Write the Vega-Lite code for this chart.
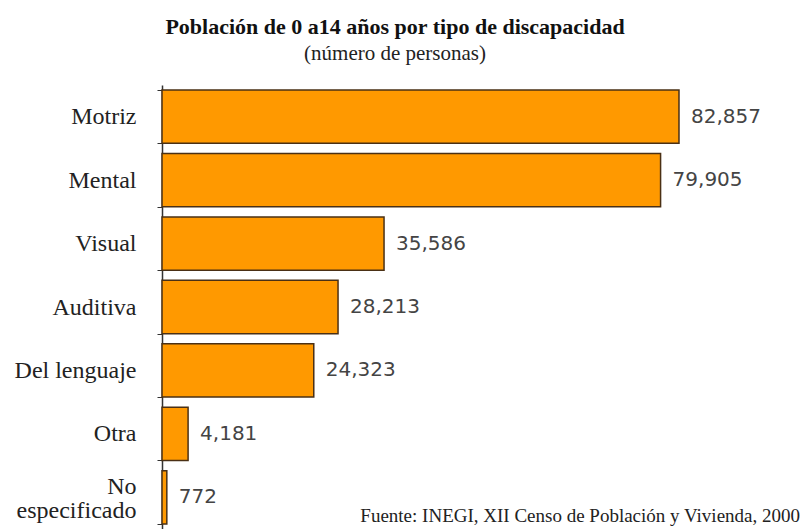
{
  "$schema": "https://vega.github.io/schema/vega-lite/v6.json",
  "width": 638,
  "height": 444,
  "autosize": "none",
  "padding": {"left": 162, "top": 85, "right": 2, "bottom": 0},
  "background": "white",
  "title": {
    "text": "Población de 0 a14 años por tipo de discapacidad",
    "subtitle": "(número de personas)",
    "anchor": "middle",
    "frame": "bounds",
    "dx": -12,
    "font": "Liberation Serif",
    "fontSize": 22,
    "fontWeight": "bold",
    "color": "#111",
    "subtitleFont": "Liberation Serif",
    "subtitleFontSize": 21,
    "subtitleColor": "#222",
    "subtitlePadding": 4,
    "offset": 8
  },
  "data": {
    "values": [
      {"tipo": "Motriz", "personas": 82857},
      {"tipo": "Mental", "personas": 79905},
      {"tipo": "Visual", "personas": 35586},
      {"tipo": "Auditiva", "personas": 28213},
      {"tipo": "Del lenguaje", "personas": 24323},
      {"tipo": "Otra", "personas": 4181},
      {"tipo": "No especificado", "personas": 772}
    ]
  },
  "encoding": {
    "y": {
      "field": "tipo",
      "type": "nominal",
      "sort": ["Motriz", "Mental", "Visual", "Auditiva", "Del lenguaje", "Otra", "No especificado"],
      "scale": {
        "domain": ["Motriz", "Mental", "Visual", "Auditiva", "Del lenguaje", "Otra", "No especificado"],
        "paddingInner": 0.16,
        "paddingOuter": 0.08
      },
      "axis": {
        "title": null,
        "domainColor": "#333",
        "domainWidth": 1.5,
        "tickColor": "#333",
        "tickSize": 5,
        "tickBand": "extent",
        "labelFont": "Liberation Serif",
        "labelFontSize": 24,
        "labelColor": "#222",
        "labelPadding": 21,
        "labelLimit": 200,
        "labelLineHeight": 24,
        "labelOffset": {"condition": {"test": "datum.value == 'No especificado'", "value": -11}, "value": 0},
        "labelExpr": "datum.value == 'No especificado' ? ['No', 'especificado'] : datum.value"
      }
    },
    "x": {
      "field": "personas",
      "type": "quantitative",
      "scale": {"domain": [0, 102250], "nice": false},
      "axis": null
    }
  },
  "layer": [
    {
      "mark": {"type": "bar", "color": "#FF9900", "stroke": "#4a3015", "strokeWidth": 1.5}
    },
    {
      "mark": {"type": "text", "align": "left", "baseline": "middle", "dx": 12, "font": "DejaVu Sans", "fontSize": 20, "color": "#444"},
      "encoding": {"text": {"field": "personas", "type": "quantitative", "format": ","}}
    },
    {
      "data": {"values": [{"fuente": "Fuente: INEGI, XII Censo de Población y Vivienda, 2000", "x": 102250, "tipo": "No especificado"}]},
      "mark": {"type": "text", "align": "right", "baseline": "alphabetic", "dy": 25, "font": "Liberation Serif", "fontSize": 19, "color": "#222"},
      "encoding": {
        "x": {"field": "x", "type": "quantitative"},
        "y": {"field": "tipo", "type": "nominal"},
        "text": {"field": "fuente"}
      }
    }
  ],
  "config": {"view": {"stroke": null}}
}
